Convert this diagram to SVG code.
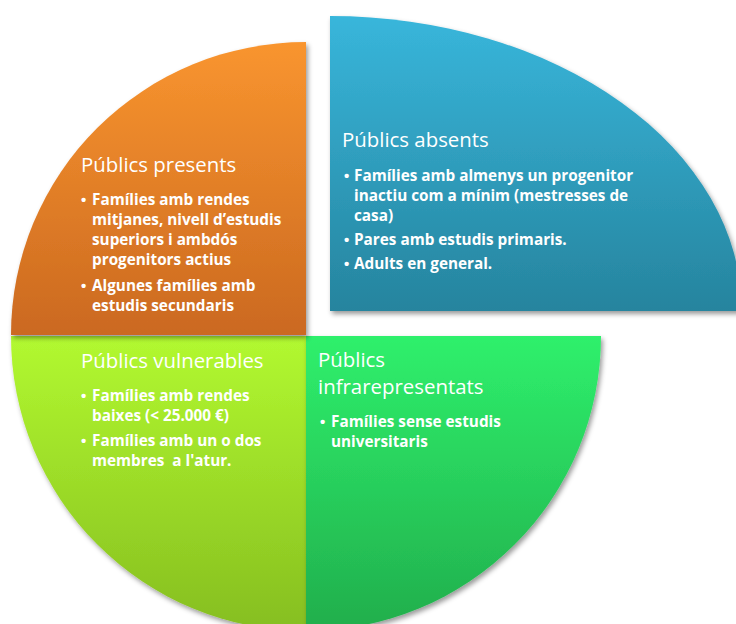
<svg xmlns="http://www.w3.org/2000/svg" width="736" height="624" viewBox="0 0 736 624">
  <defs>
    <linearGradient id="gOrange" gradientUnits="userSpaceOnUse" x1="0" y1="42" x2="0" y2="335">
      <stop offset="0" stop-color="#f9952f"/>
      <stop offset="1" stop-color="#cb6920"/>
    </linearGradient>
    <linearGradient id="gBlue" gradientUnits="userSpaceOnUse" x1="0" y1="16" x2="0" y2="311">
      <stop offset="0" stop-color="#38b6db"/>
      <stop offset="1" stop-color="#26849e"/>
    </linearGradient>
    <linearGradient id="gLime" gradientUnits="userSpaceOnUse" x1="0" y1="336" x2="0" y2="631">
      <stop offset="0" stop-color="#b2f930"/>
      <stop offset="1" stop-color="#86be20"/>
    </linearGradient>
    <linearGradient id="gGreen" gradientUnits="userSpaceOnUse" x1="0" y1="336" x2="0" y2="631">
      <stop offset="0" stop-color="#2ff06c"/>
      <stop offset="1" stop-color="#21ae4c"/>
    </linearGradient>
    <filter id="shadow" x="-10%" y="-10%" width="120%" height="120%">
      <feDropShadow dx="2" dy="3" stdDeviation="2.5" flood-color="#000" flood-opacity="0.4"/>
    </filter>
  </defs>
  <style>
    .title { font-family: "Open Sans", "Noto Sans", "Liberation Sans", sans-serif; font-size: 20.4px; font-weight: 400; fill: #ffffff; }
    .item { font-family: "Open Sans", "Noto Sans", "Liberation Sans", sans-serif; font-size: 15.3px; font-weight: 700; fill: #ffffff; }
    .bul { font-family: "Liberation Sans", "Open Sans", sans-serif; font-size: 15px; font-weight: 700; fill: #ffffff; }
    .slice { filter: url(#shadow); }
  </style>
  <rect width="736" height="624" fill="#ffffff"/>

  <g id="publics-vulnerables">
    <path class="slice" d="M306,336 V631 A295,295 0 0 1 11,336 Z" fill="url(#gLime)"/>
    <text class="title" x="81" y="368">Públics vulnerables</text>
    <text class="bul" x="81" y="401">•</text>
    <text class="item" x="92" y="401">Famílies amb rendes</text>
    <text class="item" x="92" y="421">baixes (&lt; 25.000 €)</text>
    <text class="bul" x="81" y="446">•</text>
    <text class="item" x="92" y="446">Famílies amb un o dos</text>
    <text class="item" x="92" y="466" xml:space="preserve">membres  a l'atur.</text>
  </g>

  <g id="publics-infrarepresentats">
    <path class="slice" d="M306,336 H601 A295,295 0 0 1 306,631 Z" fill="url(#gGreen)"/>
    <text class="title" x="318" y="367">Públics</text>
    <text class="title" x="318" y="394">infrarepresentats</text>
    <text class="bul" x="320" y="427">•</text>
    <text class="item" x="331" y="427">Famílies sense estudis</text>
    <text class="item" x="331" y="447">universitaris</text>
  </g>

  <g id="publics-presents">
    <path class="slice" d="M306,335 H11 A295,293 0 0 1 306,42 Z" fill="url(#gOrange)"/>
    <text class="title" x="81" y="172">Públics presents</text>
    <text class="bul" x="81" y="205">•</text>
    <text class="item" x="92" y="205">Famílies amb rendes</text>
    <text class="item" x="92" y="225">mitjanes, nivell d’estudis</text>
    <text class="item" x="92" y="245">superiors i ambdós</text>
    <text class="item" x="92" y="265">progenitors actius</text>
    <text class="bul" x="81" y="291">•</text>
    <text class="item" x="92" y="291">Algunes famílies amb</text>
    <text class="item" x="92" y="311">estudis secundaris</text>
  </g>

  <g id="publics-absents">
    <path class="slice" d="M330,311 V16 A412,295 0 0 1 742,311 Z" fill="url(#gBlue)"/>
    <text class="title" x="342" y="147">Públics absents</text>
    <text class="bul" x="344" y="181">•</text>
    <text class="item" x="354" y="181">Famílies amb almenys un progenitor</text>
    <text class="item" x="354" y="201">inactiu com a mínim (mestresses de</text>
    <text class="item" x="354" y="221">casa)</text>
    <text class="bul" x="344" y="245">•</text>
    <text class="item" x="354" y="245">Pares amb estudis primaris.</text>
    <text class="bul" x="344" y="269">•</text>
    <text class="item" x="354" y="269">Adults en general.</text>
  </g>

  <g id="connectors"></g>
</svg>
